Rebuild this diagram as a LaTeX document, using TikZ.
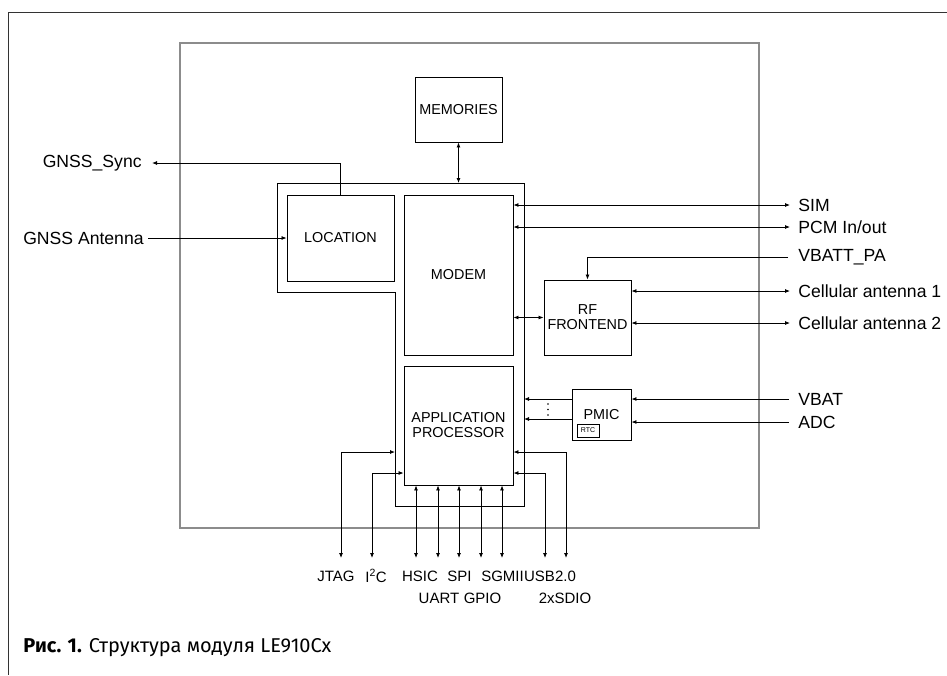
\documentclass[tikz,border=0pt]{standalone}
\usepackage{fontspec}
\setmainfont{Liberation Sans}
\newfontfamily\capfont{Fira Sans}
\usetikzlibrary{arrows.meta}

\begin{document}
\begin{tikzpicture}[x=1pt, y=-1pt, line width=0.8pt, >={Latex[length=5pt, width=4pt]},
	blk/.style={draw, line width=0.9pt, align=center, inner sep=0pt, font=\fontsize{14.4}{15}\selectfont},
	lbl/.style={inner sep=0pt, font=\fontsize{17.6}{19}\selectfont},
	pin/.style={inner sep=0pt, font=\fontsize{15}{16}\selectfont}]
	\useasboundingbox (0,0) rectangle (947,675);
	\draw[black!80, line width=1pt] (947,12) -- (8,12) -- (8,675);
	\draw[black!45, line width=1.5pt] (180,43) rectangle (759,528);
	\coordinate (fa) at (277,183);
	\coordinate (fb) at (524,183);
	\coordinate (fc) at (524,506);
	\coordinate (fd) at (395,506);
	\draw[line width=0.9pt] (fa) -- (fb) -- (fc) -- (fd) -- (395,292) -- (277,292) -- cycle;

	\node[blk, minimum width=87, minimum height=65] (mem) at (458.5,109.5) {MEMORIES};
	\node[blk, minimum width=107, minimum height=86] (loc) at (340.5,238) {LOCATION};
	\node[blk, minimum width=109, minimum height=160] (modem) at (458.5,275) {MODEM};
	\node[blk, minimum width=109, minimum height=119] (app) at (458.5,425.5) {APPLICATION\\PROCESSOR};
	\node[blk, minimum width=87, minimum height=75] (rf) at (587.5,317.5) {RF\\FRONTEND};
	\node[blk, minimum width=59, minimum height=51] (pmic) at (601.5,414.5) {PMIC};
	\node[blk, line width=0.7pt, minimum width=22, minimum height=13, font=\fontsize{7}{8}\selectfont] (rtc) at (588,430.5) {RTC};

	\node[lbl, anchor=east] (sync) at (142,163) {GNSS\_Sync};
	\node[lbl, anchor=east] (gant) at (144,238) {GNSS Antenna};
	\node[lbl, anchor=west] (sim) at (798,205) {SIM};
	\node[lbl, anchor=west] (pcm) at (798,227) {PCM In/out};
	\node[lbl, anchor=west] (vpa) at (798,257) {VBATT\_PA};
	\node[lbl, anchor=west] (cell1) at (798,291) {Cellular antenna 1};
	\node[lbl, anchor=west] (cell2) at (798,323) {Cellular antenna 2};
	\node[lbl, anchor=west] (vbat) at (798,399) {VBAT};
	\node[lbl, anchor=west] (adc) at (798,422) {ADC};

	\draw[<->] (mem.south) -- (mem.south |- fa);
	\draw[->] (loc.north) |- ([xshift=10]sync.east);
	\draw[->] ([xshift=4]gant.east) -- (loc.west);
	\draw[<->] (modem.east |- sim) -- ([xshift=-8]sim.west);
	\draw[<->] (modem.east |- pcm) -- ([xshift=-8]pcm.west);
	\draw[->] ([xshift=-10]vpa.west) -| (rf.north);
	\draw[<->] (rf.east |- cell1) -- ([xshift=-8]cell1.west);
	\draw[<->] (rf.east |- cell2) -- ([xshift=-8]cell2.west);
	\draw[<->] (rf.west -| modem.east) -- (rf.west);
	\draw[->] ([xshift=-9]vbat.west) -- (pmic.east |- vbat);
	\draw[->] ([xshift=-9]adc.west) -- (pmic.east |- adc);

	\coordinate (pm1) at (524,399);
	\coordinate (pm2) at (524,419);
	\draw[->] (pmic.west |- pm1) -- (pm1);
	\draw[->] (pmic.west |- pm2) -- (pm2);
	\foreach \y in {404,409.5,415}
		\fill (548,\y) circle (0.8);

	\foreach \x/\lx/\ly/\t in {416/420/576/HSIC, 438/439/598/UART, 459/459.5/576/SPI, 481/482.5/598/GPIO, 502/502.5/576/SGMII} {
		\node[pin] (\t) at (\lx,\ly) {\t};
		\coordinate (e\t) at (\x,558);
		\draw[<->] (app.south -| e\t) -- (e\t);
	}
	\node[pin] (jtag) at (336,576) {JTAG};
	\node[pin] (i2c) at (376,576) {I\textsuperscript{2}C};
	\node[pin] (usb) at (550,576) {USB2.0};
	\node[pin] (sdio) at (565,598) {2xSDIO};
	\coordinate (ejtag) at (341,558);
	\coordinate (ei2c) at (372,558);
	\coordinate (eusb) at (566,558);
	\coordinate (esdio) at (545,558);
	\draw[<->] (ejtag) |- (fd |- 0,452);
	\draw[<->] (ei2c) |- (app.west |- 0,473);
	\draw[<->] (eusb) |- (app.east |- 0,452);
	\draw[<->] (esdio) |- (app.east |- 0,473);

	\node[anchor=west, inner sep=0pt, font=\capfont\fontsize{20}{22}\selectfont] (cap) at (23,648) {\textbf{Рис. 1.} Структура модуля LE910Cx};
\end{tikzpicture}
\end{document}
